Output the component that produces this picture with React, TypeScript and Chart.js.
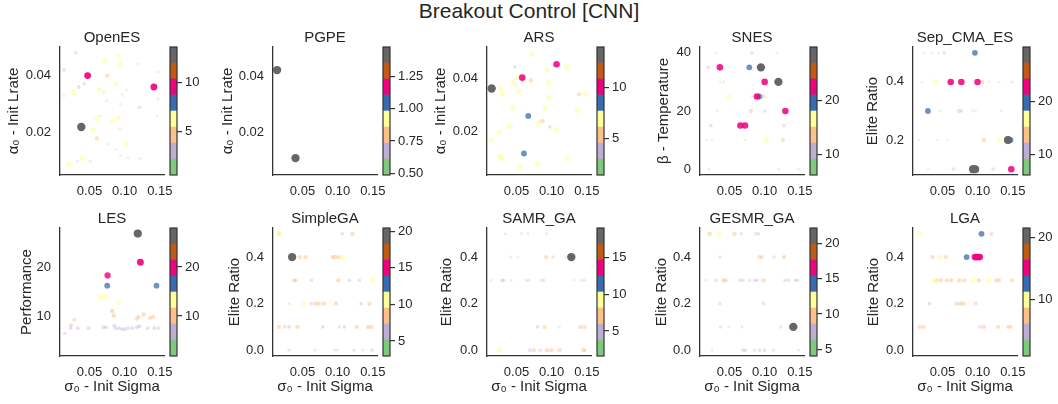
import React, { useEffect, useRef } from 'react';
import { Chart, registerables } from 'chart.js';

Chart.register(...registerables);

const FONT = "'Liberation Sans', Arial, Helvetica, sans-serif";
const TEXT = '#262626';
const SPINE = '#333333';
const ACCENT = ['#7fc97f', '#beaed4', '#fdc086', '#ffff99', '#386cb0', '#f0027f', '#bf5b17', '#666666'];

// ---------- shared axis data ----------
const sigmaTicks = [0.05, 0.1, 0.15];
const sigmaRange = [0.008, 0.156];
const lrateTicks = [0.02, 0.04];
const temperatureTicks = [0, 20, 40];
const sepEliteTicks = [0.2, 0.4];
const gaEliteTicks = [0.0, 0.2, 0.4];
const perfTicks = [10, 20];

// ---------- OpenES ----------
const openesSigma = [0.0303, 0.0137, 0.0905, 0.0715, 0.0938, 0.1189, 0.0473, 0.0753, 0.1473, 0.0426, 0.0345, 0.0871, 0.0644, 0.0274, 0.1416, 0.0701, 0.1032, 0.0137, 0.0743, 0.0966, 0.1213, 0.1473, 0.0938, 0.0653, 0.0606, 0.0905, 0.0833, 0.1459, 0.0383, 0.0549, 0.0928, 0.0606, 0.0753, 0.1014, 0.088, 0.0397, 0.0938, 0.1047, 0.1222, 0.0208, 0.0326, 0.0511];
const openesLrate = [0.048, 0.042, 0.0471, 0.0451, 0.044, 0.0441, 0.04, 0.04, 0.0412, 0.0371, 0.036, 0.0371, 0.0349, 0.0341, 0.036, 0.0341, 0.0349, 0.0329, 0.0312, 0.0332, 0.0289, 0.0319, 0.03, 0.0259, 0.0251, 0.0251, 0.0241, 0.0259, 0.022, 0.0209, 0.0212, 0.018, 0.016, 0.016, 0.0141, 0.011, 0.0121, 0.0112, 0.011, 0.0089, 0.01, 0.01];
const openesPerf = [3.0, 3.1, 6.3, 6.4, 6.2, 1.2, 10.0, 4.7, 1.3, 3.0, 3.2, 6.3, 6.1, 6.3, 10.1, 1.2, 1.1, 1.3, 1.2, 1.2, 3.0, 1.2, 1.1, 1.2, 6.2, 6.4, 6.3, 1.2, 13.5, 6.2, 1.2, 4.7, 1.2, 6.3, 1.2, 6.2, 1.1, 1.2, 1.2, 6.3, 1.2, 1.4];

// ---------- PGPE ----------
const pgpeSigma = [0.0138, 0.04];
const pgpeLrate = [0.0423, 0.011];
const pgpePerf = [1.47, 1.47];

// ---------- ARS ----------
const arsSigma = [0.0715, 0.0478, 0.107, 0.1213, 0.0938, 0.0582, 0.0525, 0.0587, 0.0705, 0.0454, 0.0957, 0.0146, 0.0279, 0.0298, 0.053, 0.0966, 0.1388, 0.1483, 0.0449, 0.0914, 0.1364, 0.0667, 0.0833, 0.087, 0.081, 0.0393, 0.0976, 0.1061, 0.0255, 0.0137, 0.0606, 0.0255, 0.0288, 0.1213, 0.0796, 0.054];
const arsLrate = [0.0494, 0.0444, 0.0454, 0.0444, 0.0434, 0.0404, 0.0404, 0.0394, 0.0393, 0.0384, 0.0384, 0.0363, 0.0363, 0.0341, 0.0353, 0.0331, 0.0341, 0.0341, 0.0291, 0.0291, 0.0281, 0.026, 0.0241, 0.0241, 0.023, 0.0221, 0.0219, 0.021, 0.02, 0.0171, 0.0119, 0.0109, 0.01, 0.01, 0.0079, 0.0069];
const arsPerf = [7.0, 3.8, 10.0, 7.0, 7.1, 10.1, 7.0, 5.4, 5.4, 7.0, 7.1, 13.9, 7.0, 7.0, 7.1, 7.0, 5.4, 7.0, 7.0, 7.1, 7.0, 8.5, 2.0, 5.4, 7.0, 7.0, 3.8, 7.0, 7.1, 7.0, 8.5, 7.0, 7.0, 7.0, 7.1, 7.0];

// ---------- SNES ----------
const snesSigma = [0.0301, 0.082, 0.1173, 0.0198, 0.0363, 0.0504, 0.0782, 0.0947, 0.0372, 0.0419, 0.1, 0.1196, 0.049, 0.082, 0.0984, 0.0923, 0.089, 0.0325, 0.0805, 0.1, 0.1295, 0.0235, 0.0655, 0.0721, 0.1276, 0.0174, 0.0254, 0.0725, 0.1022, 0.1258, 0.0207, 0.1196, 0.148];
const snesTemperature = [40, 40, 40, 35, 35, 35, 35, 35, 30, 30, 30, 30, 25, 25, 25, 25, 25, 20, 20, 20, 20, 15, 15, 15, 15, 10, 10, 10, 10, 10, 0, 0, 0];
const snesPerf = [7, 10.5, 7, 10.5, 22.5, 7, 19.5, 29.5, 7, 7, 22.5, 29.5, 16.5, 7, 13.5, 19.5, 22.5, 7, 13.5, 10.5, 22.5, 10.5, 22.5, 22.5, 10.5, 7, 7, 7, 16.5, 13.5, 7, 7, 7];

// ---------- Sep_CMA_ES ----------
const sepSigma = [0.0231, 0.0348, 0.0443, 0.0523, 0.0961, 0.0207, 0.0396, 0.0617, 0.0768, 0.0998, 0.1064, 0.1163, 0.1305, 0.1488, 0.0292, 0.0466, 0.0735, 0.0772, 0.0928, 0.097, 0.1338, 0.016, 0.0433, 0.057, 0.1088, 0.1314, 0.1469, 0.1432, 0.0301, 0.0655, 0.0935, 0.0965, 0.122, 0.1479];
const sepElite = [0.5, 0.5, 0.5, 0.5, 0.5, 0.4, 0.4, 0.4, 0.4, 0.4, 0.4, 0.4, 0.4, 0.4, 0.3, 0.3, 0.3, 0.3, 0.3, 0.3, 0.3, 0.2, 0.2, 0.2, 0.2, 0.2, 0.2, 0.2, 0.1, 0.1, 0.1, 0.1, 0.1, 0.1];
const sepPerf = [7, 7, 7, 10.5, 19.5, 7, 16.5, 22.5, 22.5, 22.5, 13.5, 7, 7, 7.5, 19.5, 7, 13.5, 10.5, 7, 7, 7, 7, 7.5, 7, 13.5, 16.5, 19.5, 29.0, 7, 10.5, 30.0, 28.5, 10.5, 22.5];

// ---------- LES ----------
const lesSigma = [0.1187, 0.1224, 0.0757, 0.0752, 0.1453, 0.065, 0.0724, 0.0907, 0.0823, 0.0846, 0.0285, 0.1173, 0.1196, 0.127, 0.136, 0.1406, 0.015, 0.0239, 0.023, 0.0332, 0.0486, 0.0697, 0.0734, 0.0851, 0.0874, 0.0921, 0.0967, 0.1, 0.1047, 0.1107, 0.1173, 0.121, 0.1327, 0.1421, 0.1481];
const lesPerformance = [26.85, 21.0, 18.3, 16.2, 16.2, 13.8, 14.0, 12.7, 11.0, 10.1, 9.2, 9.4, 9.8, 10.3, 9.6, 9.8, 6.4, 8.1, 7.5, 7.5, 7.5, 7.7, 7.7, 8.0, 7.5, 7.5, 7.3, 7.3, 7.5, 7.5, 7.7, 7.9, 7.5, 7.5, 7.5];

// ---------- SimpleGA ----------
const simpleSigma = [0.0152, 0.0166, 0.1067, 0.1211, 0.0352, 0.0462, 0.0543, 0.0929, 0.0962, 0.101, 0.1072, 0.038, 0.0404, 0.0629, 0.101, 0.1168, 0.1311, 0.1497, 0.0309, 0.0519, 0.0629, 0.069, 0.0733, 0.0805, 0.0977, 0.1335, 0.1454, 0.0166, 0.0247, 0.0309, 0.0428, 0.0786, 0.1024, 0.1096, 0.1273, 0.143, 0.1478, 0.0309, 0.0676, 0.0962, 0.0996, 0.1234, 0.1358, 0.1487];
const simpleElite = [0.5, 0.5, 0.5, 0.5, 0.4, 0.4, 0.4, 0.4, 0.4, 0.4, 0.4, 0.3, 0.3, 0.3, 0.3, 0.3, 0.3, 0.3, 0.2, 0.2, 0.2, 0.2, 0.2, 0.2, 0.2, 0.2, 0.2, 0.1, 0.1, 0.1, 0.1, 0.1, 0.1, 0.1, 0.1, 0.1, 0.1, 0.0, 0.0, 0.0, 0.0, 0.0, 0.0, 0.0];
const simplePerf = [10.6, 8.4, 6.0, 8.4, 20.4, 8.4, 8.4, 8.4, 8.4, 8.4, 10.6, 8.4, 6.2, 6.2, 8.4, 6.2, 6.2, 10.6, 4.0, 10.6, 6.2, 8.4, 8.4, 8.4, 8.4, 6.2, 8.4, 8.4, 6.2, 6.2, 8.4, 6.2, 5.5, 6.2, 8.4, 8.4, 8.4, 5.5, 4.0, 4.0, 4.0, 5.5, 4.0, 6.2];

// ---------- SAMR_GA ----------
const samrSigma = [0.0341, 0.0568, 0.0663, 0.0924, 0.0412, 0.0521, 0.0924, 0.1019, 0.1208, 0.128, 0.0137, 0.0293, 0.0317, 0.0426, 0.0639, 0.0673, 0.0853, 0.0886, 0.1322, 0.1421, 0.1464, 0.0801, 0.09, 0.1109, 0.1407, 0.1469, 0.0255, 0.0687, 0.0744, 0.0838, 0.0933, 0.0995, 0.1113, 0.1455, 0.147];
const samrElite = [0.5, 0.5, 0.5, 0.5, 0.4, 0.4, 0.4, 0.4, 0.4, 0.4, 0.3, 0.3, 0.3, 0.3, 0.3, 0.3, 0.3, 0.3, 0.3, 0.3, 0.3, 0.1, 0.1, 0.1, 0.1, 0.1, 0.0, 0.0, 0.0, 0.0, 0.0, 0.0, 0.0, 0.0, 0.0];
const samrPerf = [2.7, 2.7, 2.7, 2.7, 2.7, 2.5, 7.0, 4.5, 2.5, 19.0, 2.5, 4.9, 4.9, 2.5, 3.0, 3.2, 3.0, 4.5, 2.5, 2.7, 3.2, 4.9, 7.0, 2.5, 7.0, 7.0, 9.2, 4.9, 7.0, 4.5, 7.0, 7.0, 7.0, 7.5, 3.0];

// ---------- GESMR_GA ----------
const gesmrSigma = [0.0217, 0.0348, 0.057, 0.0669, 0.0876, 0.0914, 0.0363, 0.0928, 0.0961, 0.1135, 0.1276, 0.016, 0.0311, 0.0419, 0.0443, 0.0645, 0.0692, 0.0782, 0.0857, 0.089, 0.0984, 0.129, 0.1338, 0.1441, 0.1469, 0.0363, 0.0984, 0.0372, 0.049, 0.0678, 0.1229, 0.1408, 0.0254, 0.0692, 0.0725, 0.0857, 0.0928, 0.0998, 0.1126, 0.1479];
const gesmrElite = [0.5, 0.5, 0.5, 0.5, 0.5, 0.5, 0.4, 0.4, 0.4, 0.4, 0.4, 0.3, 0.3, 0.3, 0.3, 0.3, 0.3, 0.3, 0.3, 0.3, 0.3, 0.3, 0.3, 0.3, 0.3, 0.2, 0.2, 0.1, 0.1, 0.1, 0.1, 0.1, 0.0, 0.0, 0.0, 0.0, 0.0, 0.0, 0.0, 0.0];
const gesmrPerf = [9.7, 12.0, 9.7, 7.0, 7.0, 7.0, 7.0, 9.7, 7.4, 7.0, 9.7, 5.2, 7.0, 9.7, 9.7, 7.4, 7.4, 6.8, 7.4, 7.4, 9.7, 7.4, 7.4, 7.4, 7.4, 7.0, 7.0, 7.0, 5.0, 5.2, 7.0, 22.0, 5.2, 7.4, 7.4, 6.8, 7.4, 7.4, 6.8, 5.5];

// ---------- LGA ----------
const lgaSigma = [0.017, 0.1055, 0.1196, 0.0358, 0.0457, 0.0546, 0.0843, 0.0937, 0.0961, 0.0984, 0.1008, 0.1031, 0.0975, 0.0386, 0.041, 0.0476, 0.056, 0.0622, 0.0739, 0.081, 0.0937, 0.1017, 0.1163, 0.1267, 0.1305, 0.1488, 0.0316, 0.0702, 0.0758, 0.0796, 0.0975, 0.0174, 0.0231, 0.1031, 0.1088, 0.129, 0.1432, 0.1465];
const lgaElite = [0.5, 0.5, 0.5, 0.4, 0.4, 0.4, 0.4, 0.4, 0.4, 0.4, 0.4, 0.4, 0.4, 0.3, 0.3, 0.3, 0.3, 0.3, 0.3, 0.3, 0.3, 0.3, 0.3, 0.3, 0.3, 0.3, 0.2, 0.2, 0.2, 0.2, 0.2, 0.1, 0.1, 0.1, 0.1, 0.1, 0.1, 0.1];
const lgaPerf = [10.0, 12.6, 7.0, 7.4, 10.0, 7.0, 12.6, 7.4, 15.2, 15.2, 15.2, 15.2, 10.0, 10.0, 7.4, 7.4, 7.4, 7.4, 7.4, 7.4, 10.0, 7.4, 10.0, 7.4, 7.4, 7.0, 4.8, 7.4, 7.4, 7.4, 7.0, 7.0, 7.0, 4.8, 7.0, 7.0, 4.8, 7.0];

// ---------- colorbar scales ----------
const cbTicksOpenES = [5, 10];
const cbTicksPGPE = [0.5, 0.75, 1.0, 1.25];
const cbTicksARS = [5, 10];
const cbTicksSNES = [10, 20];
const cbTicksSep = [10, 20];
const cbTicksLES = [10, 20];
const cbTicksSimple = [5, 10, 15, 20];
const cbTicksSAMR = [5, 10, 15];
const cbTicksGESMR = [5, 10, 15, 20];
const cbTicksLGA = [10, 20];

type PanelSpec = {
  title: string;
  xs: number[];
  ys: number[];
  vs: number[];
  yLabel: string;
  yRange: number[];
  yTicks: number[];
  yDec: number;
  cRange: number[];
  cTicks: number[];
  cDec: number;
  col: number;
  row: number;
  labelOffset: number;
};

const LRATE_LABEL = 'α₀ - Init Lrate';
const ELITE_LABEL = 'Elite Ratio';

const PANELS: PanelSpec[] = [
  { title: 'OpenES', xs: openesSigma, ys: openesLrate, vs: openesPerf, yLabel: LRATE_LABEL, yRange: [0.0052, 0.05], yTicks: lrateTicks, yDec: 2, cRange: [0.64, 13.55], cTicks: cbTicksOpenES, cDec: 0, col: 0, row: 0, labelOffset: 46 },
  { title: 'PGPE', xs: pgpeSigma, ys: pgpeLrate, vs: pgpePerf, yLabel: LRATE_LABEL, yRange: [0.005, 0.0505], yTicks: lrateTicks, yDec: 2, cRange: [0.487, 1.477], cTicks: cbTicksPGPE, cDec: 2, col: 1, row: 0, labelOffset: 45 },
  { title: 'ARS', xs: arsSigma, ys: arsLrate, vs: arsPerf, yLabel: LRATE_LABEL, yRange: [0.0038, 0.0519], yTicks: lrateTicks, yDec: 2, cRange: [1.5, 13.9], cTicks: cbTicksARS, cDec: 0, col: 2, row: 0, labelOffset: 46 },
  { title: 'SNES', xs: snesSigma, ys: snesTemperature, vs: snesPerf, yLabel: 'β - Temperature', yRange: [-2, 42], yTicks: temperatureTicks, yDec: 0, cRange: [6.1, 30], cTicks: cbTicksSNES, cDec: 0, col: 3, row: 0, labelOffset: 36 },
  { title: 'Sep_CMA_ES', xs: sepSigma, ys: sepElite, vs: sepPerf, yLabel: ELITE_LABEL, yRange: [0.08, 0.52], yTicks: sepEliteTicks, yDec: 1, cRange: [6.25, 30.1], cTicks: cbTicksSep, cDec: 0, col: 4, row: 0, labelOffset: 40 },
  { title: 'LES', xs: lesSigma, ys: lesPerformance, vs: lesPerformance, yLabel: 'Performance', yRange: [1.8, 28], yTicks: perfTicks, yDec: 0, cRange: [1.8, 28], cTicks: cbTicksLES, cDec: 0, col: 0, row: 1, labelOffset: 33 },
  { title: 'SimpleGA', xs: simpleSigma, ys: simpleElite, vs: simplePerf, yLabel: ELITE_LABEL, yRange: [-0.025, 0.525], yTicks: gaEliteTicks, yDec: 1, cRange: [2.95, 20.46], cTicks: cbTicksSimple, cDec: 0, col: 1, row: 1, labelOffset: 38 },
  { title: 'SAMR_GA', xs: samrSigma, ys: samrElite, vs: samrPerf, yLabel: ELITE_LABEL, yRange: [-0.025, 0.525], yTicks: gaEliteTicks, yDec: 1, cRange: [1.6, 19], cTicks: cbTicksSAMR, cDec: 0, col: 2, row: 1, labelOffset: 40 },
  { title: 'GESMR_GA', xs: gesmrSigma, ys: gesmrElite, vs: gesmrPerf, yLabel: ELITE_LABEL, yRange: [-0.025, 0.525], yTicks: gaEliteTicks, yDec: 1, cRange: [4.05, 22.2], cTicks: cbTicksGESMR, cDec: 0, col: 3, row: 1, labelOffset: 38 },
  { title: 'LGA', xs: lgaSigma, ys: lgaElite, vs: lgaPerf, yLabel: ELITE_LABEL, yRange: [-0.025, 0.525], yTicks: gaEliteTicks, yDec: 1, cRange: [0.92, 21.6], cTicks: cbTicksLGA, cDec: 0, col: 4, row: 1, labelOffset: 39 },
];

// ---------- layout ----------
const AX_LEFT = [60, 273, 487, 700, 913];
const AX_TOP = [47, 228];
const AX_W = 104;
const AX_H = 128;
const TITLE_BOX = 18;
const X_BOX = [30, 40];
const RIGHT_PAD = 20;
const CB_GAP = 110;
const CB_W = 7;
const CB_AXIS_W = 45;
const CB_PAD = 20;
const LABEL_SIZE = 15;

function hexToRgba(hex: string, a: number) {
  const n = parseInt(hex.slice(1), 16);
  return `rgba(${(n >> 16) & 255},${(n >> 8) & 255},${n & 255},${a.toFixed(3)})`;
}

const outlinePlugin = {
  id: 'cbOutline',
  afterDatasetsDraw(chart: any) {
    const { ctx, chartArea } = chart;
    ctx.save();
    ctx.strokeStyle = SPINE;
    ctx.lineWidth = 1.2;
    ctx.strokeRect(chartArea.left, chartArea.top, chartArea.right - chartArea.left, chartArea.bottom - chartArea.top);
    ctx.restore();
  },
};

function Panel({ p }: { p: PanelSpec }) {
  const sRef = useRef<HTMLCanvasElement>(null);
  const cRef = useRef<HTMLCanvasElement>(null);
  const yW = Math.round(p.labelOffset + LABEL_SIZE * 0.6);
  const axLeft = AX_LEFT[p.col];
  const axTop = AX_TOP[p.row];
  const sW = yW + AX_W + RIGHT_PAD;
  const sH = TITLE_BOX + AX_H + X_BOX[p.row];
  const sLeft = axLeft - yW;
  const sTop = axTop - TITLE_BOX;
  const cLeft = axLeft + CB_GAP - 1;
  const cTop = axTop - CB_PAD;
  const cW = 1 + CB_W + CB_AXIS_W;
  const cH = AX_H + 2 * CB_PAD;

  useEffect(() => {
    const [cMin, cMax] = p.cRange;
    const norm = (v: number) => Math.max(0, Math.min(1, (v - cMin) / (cMax - cMin)));
    const order = p.vs.map((_, i) => i).sort((a, b) => p.vs[a] - p.vs[b]);
    const pts = order.map((i) => ({ x: p.xs[i], y: p.ys[i] }));
    const colors = order.map((i) => {
      const t = norm(p.vs[i]);
      const bin = Math.min(7, Math.floor(t * 8));
      return hexToRgba(ACCENT[bin], Math.min(1, 0.15 + 1.05 * t));
    });
    const radii = order.map((i) => 1.3 + 2.9 * norm(p.vs[i]));

    const tickFont = { family: FONT, size: 13 };
    const labelFont = { family: FONT, size: LABEL_SIZE, lineHeight: 1.2 };

    const scatter = new Chart(sRef.current as HTMLCanvasElement, {
      type: 'scatter',
      data: {
        datasets: [
          {
            data: pts,
            backgroundColor: colors,
            pointRadius: radii,
            pointHoverRadius: radii,
            borderWidth: 0,
            pointBorderWidth: 0,
            clip: false,
          } as any,
        ],
      },
      options: {
        responsive: false,
        animation: false,
        events: [],
        layout: { padding: { left: 0, right: RIGHT_PAD, top: 0, bottom: 0 } },
        plugins: {
          legend: { display: false },
          tooltip: { enabled: false },
          title: {
            display: true,
            text: p.title,
            color: TEXT,
            fullSize: false,
            font: { family: FONT, size: 15, weight: 'normal', lineHeight: 1.2 },
            padding: 0,
          },
        },
        scales: {
          x: {
            type: 'linear',
            min: sigmaRange[0],
            max: sigmaRange[1],
            grid: { display: false, drawTicks: false, tickLength: 0 },
            border: { display: true, color: SPINE, width: 1.3 },
            ticks: {
              font: tickFont,
              color: TEXT,
              padding: 9,
              maxRotation: 0,
              autoSkip: false,
              callback: (v: any) => Number(v).toFixed(2),
            },
            afterBuildTicks: (s: any) => {
              s.ticks = sigmaTicks.map((v) => ({ value: v }));
            },
            afterFit: (s: any) => {
              s.height = X_BOX[p.row];
            },
            title: {
              display: p.row === 1,
              text: 'σ₀ - Init Sigma',
              color: TEXT,
              font: labelFont,
              padding: 0,
            },
          },
          y: {
            type: 'linear',
            min: p.yRange[0],
            max: p.yRange[1],
            grid: { display: false, drawTicks: false, tickLength: 0 },
            border: { display: true, color: SPINE, width: 1.3 },
            ticks: {
              font: tickFont,
              color: TEXT,
              padding: 9,
              autoSkip: false,
              callback: (v: any) => Number(v).toFixed(p.yDec),
            },
            afterBuildTicks: (s: any) => {
              s.ticks = p.yTicks.map((v) => ({ value: v }));
            },
            afterFit: (s: any) => {
              s.width = yW;
            },
            title: {
              display: true,
              text: p.yLabel,
              color: TEXT,
              font: labelFont,
              padding: 0,
            },
          },
        },
      } as any,
    });

    const step = (cMax - cMin) / 8;
    const colorbar = new Chart(cRef.current as HTMLCanvasElement, {
      type: 'bar',
      data: {
        labels: [''],
        datasets: ACCENT.map((c, i) => ({
          data: [[cMin + i * step, cMin + (i + 1) * step]],
          backgroundColor: c,
          borderWidth: 0,
          grouped: false,
          barPercentage: 1,
          categoryPercentage: 1,
        })) as any,
      },
      options: {
        responsive: false,
        animation: false,
        events: [],
        layout: { padding: { left: 1, right: 0, top: CB_PAD, bottom: CB_PAD } },
        plugins: { legend: { display: false }, tooltip: { enabled: false }, title: { display: false } },
        scales: {
          x: { display: false },
          y: {
            type: 'linear',
            position: 'right',
            min: cMin,
            max: cMax,
            grid: {
              display: true,
              drawOnChartArea: false,
              drawTicks: true,
              tickLength: 5,
              color: SPINE,
              tickColor: SPINE,
              lineWidth: 1.2,
              tickWidth: 1.2,
            },
            border: { display: false },
            ticks: {
              font: tickFont,
              color: TEXT,
              padding: 3,
              autoSkip: false,
              callback: (v: any) => Number(v).toFixed(p.cDec),
            },
            afterBuildTicks: (s: any) => {
              s.ticks = p.cTicks.map((v) => ({ value: v }));
            },
            afterFit: (s: any) => {
              s.width = CB_AXIS_W;
            },
          },
        },
      } as any,
      plugins: [outlinePlugin],
    });

    return () => {
      scatter.destroy();
      colorbar.destroy();
    };
  }, []);

  return (
    <>
      <canvas
        ref={sRef}
        width={sW}
        height={sH}
        style={{ position: 'absolute', left: sLeft, top: sTop, width: sW, height: sH }}
      />
      <canvas
        ref={cRef}
        width={cW}
        height={cH}
        style={{ position: 'absolute', left: cLeft, top: cTop, width: cW, height: cH }}
      />
    </>
  );
}

export default function App() {
  return (
    <div
      style={{
        position: 'absolute',
        left: 0,
        top: 0,
        width: 1058,
        height: 404,
        background: '#ffffff',
        overflow: 'hidden',
      }}
    >
      <div
        style={{
          position: 'absolute',
          left: 0,
          top: -1,
          width: 1058,
          height: 24,
          lineHeight: '24px',
          textAlign: 'center',
          fontFamily: FONT,
          fontSize: 21,
          color: TEXT,
        }}
      >
        Breakout Control [CNN]
      </div>
      {PANELS.map((p) => (
        <Panel key={p.title} p={p} />
      ))}
    </div>
  );
}
